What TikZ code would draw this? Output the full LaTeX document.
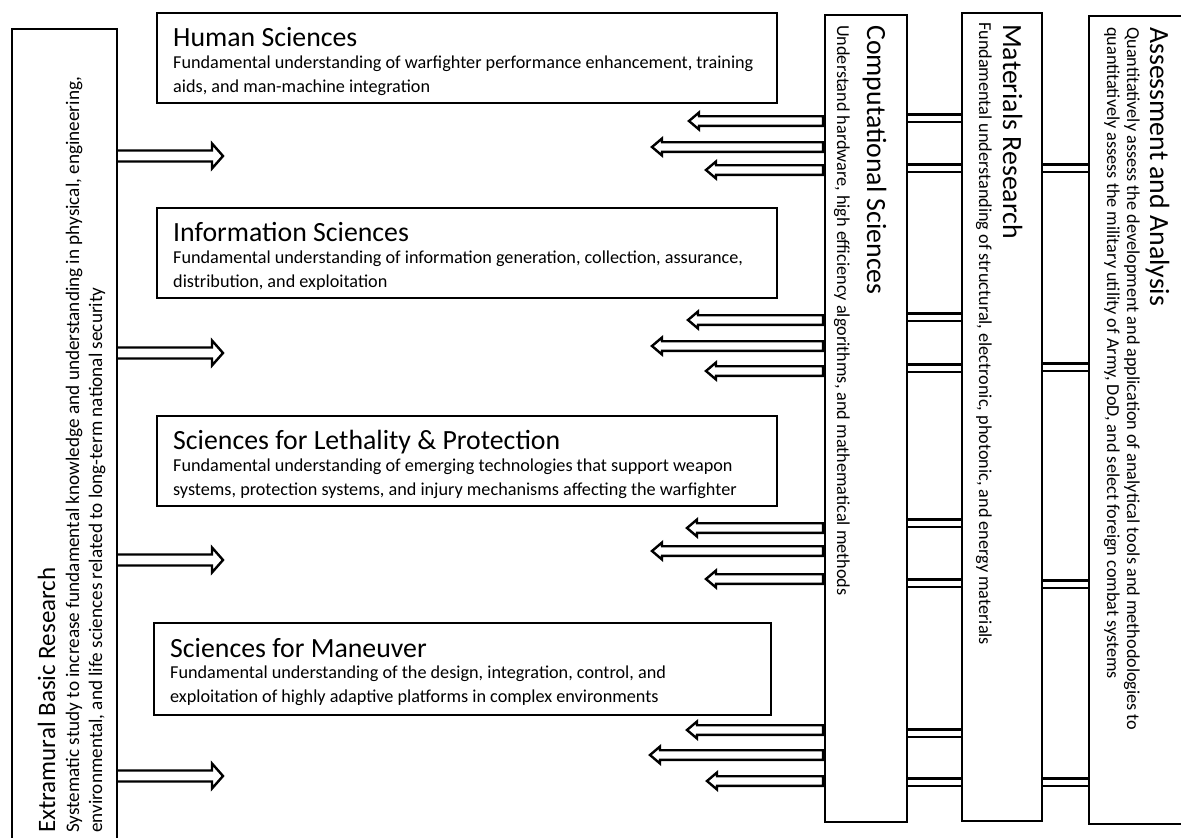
\documentclass[tikz,border=0pt]{standalone}
\usepackage{fontspec}
\setmainfont{Carlito}
\usetikzlibrary{calc,backgrounds}
\newcommand\larr[3]{% name, y, tip x
  \coordinate (#1) at (#3,#2);
  \coordinate (#1s) at (cs.west |- #1);
  \draw[blk] ($(#1s)+(-2,-4.8)$) -- ($(#1)+(10,-4.8)$) -- ($(#1)+(10,-8.5)$) -- (#1)
    -- ($(#1)+(10,8.5)$) -- ($(#1)+(10,4.8)$) -- ($(#1s)+(-2,4.8)$) -- cycle;}
\newcommand\rarr[3]{% name, y, tip x
  \coordinate (#1) at (#3,#2);
  \coordinate (#1s) at (ex.east |- #1);
  \draw[blk] ($(#1s)+(-3,-5.5)$) -- ($(#1)+(-11,-5.5)$) -- ($(#1)+(-11,-12.5)$) -- (#1)
    -- ($(#1)+(-11,12.5)$) -- ($(#1)+(-11,5.5)$) -- ($(#1s)+(-3,5.5)$) -- cycle;}
\newcommand\dconn[3]{\draw[dbl] (#1.east |- 0,#3) -- (#2.west |- 0,#3);}
\begin{document}
\begin{tikzpicture}[x=1pt,y=-1pt,
  box/.style={draw, fill=white, line width=2.4pt, rectangle, inner sep=0pt, outer sep=0pt, anchor=north west},
  ttl/.style={inner sep=0pt, anchor=base west, font=\fontsize{27.8}{32}\selectfont},
  bdy/.style={inner sep=0pt, anchor=base west, font=\fontsize{18.2}{22}\selectfont},
  exttl/.style={ttl, font=\fontsize{25}{30}\selectfont},
  exbdy/.style={bdy, font=\fontsize{19.2}{23}\selectfont},
  blk/.style={draw, fill=white, line width=2.4pt, line join=miter},
  dbl/.style={draw, line width=2.3pt, double, double distance=5pt}]
\useasboundingbox (0,0) rectangle (1181,838);
% boxes
\node[box, minimum width=105pt, minimum height=830pt] (ex) at (12,29) {};
\node[box, minimum width=620pt, minimum height=90pt] (hs) at (157,13) {};
\node[box, minimum width=620pt, minimum height=90pt] (is) at (157,208) {};
\node[box, minimum width=620pt, minimum height=90pt] (lp) at (157,416) {};
\node[box, minimum width=617pt, minimum height=92pt] (sm) at (154,623) {};
\node[box, minimum width=82pt, minimum height=807pt] (cs) at (825,15) {};
\node[box, minimum width=80pt, minimum height=808pt] (mr) at (962,13) {};
\node[box, minimum width=110pt, minimum height=808pt] (aa) at (1089,16) {};
% horizontal box texts
\node[ttl] (hst) at (173,46) {Human Sciences};
\node[bdy] (hsb1) at (173,68) {Fundamental understanding of warfighter performance enhancement, training};
\node[bdy] (hsb2) at (173,92) {aids, and man-machine integration};
\node[ttl] (ist) at (173,241) {Information Sciences};
\node[bdy] (isb1) at (173,263) {Fundamental understanding of information generation, collection, assurance,};
\node[bdy] (isb2) at (173,287) {distribution, and exploitation};
\node[ttl] (lpt) at (173,449) {Sciences for Lethality \& Protection};
\node[bdy] (lpb1) at (173,471) {Fundamental understanding of emerging technologies that support weapon};
\node[bdy] (lpb2) at (173,495) {systems, protection systems, and injury mechanisms affecting the warfighter};
\node[ttl] (smt) at (170,657) {Sciences for Maneuver};
\node[bdy] (smb1) at (170,678) {Fundamental understanding of the design, integration, control, and};
\node[bdy] (smb2) at (170,702) {exploitation of highly adaptive platforms in complex environments};
% vertical texts
\node[ttl, rotate=-90] (cst) at (867,25) {Computational Sciences};
\node[bdy, rotate=-90] (csb) at (837,25) {Understand hardware, high efficiency algorithms, and mathematical methods};
\node[ttl, rotate=-90] (mrt) at (1003,24) {Materials Research};
\node[bdy, rotate=-90] (mrb) at (979,22) {Fundamental understanding of structural, electronic, photonic, and energy materials};
\node[ttl, rotate=-90] (aat) at (1150,27) {Assessment and Analysis};
\node[bdy, rotate=-90] (aab1) at (1127,27) {Quantitatively assess the development and application of analytical tools and methodologies to};
\node[bdy, rotate=-90] (aab2) at (1107,27) {quantitatively assess the military utility of Army, DoD, and select foreign combat systems};
\node[exttl, rotate=90] (ext) at (55,833) {Extramural Basic Research};
\node[exbdy, rotate=90] (exb1) at (79,833) {Systematic study to increase fundamental knowledge and understanding in physical, engineering,};
\node[exbdy, rotate=90] (exb2) at (102,833) {environmental, and life sciences related to long-term national security};
% connectors
\begin{scope}[on background layer]
\rarr{r1}{156}{223}
\rarr{r2}{353}{223}
\rarr{r3}{560}{223}
\rarr{r4}{776}{223}
\larr{a1}{121}{689}
\larr{a2}{147}{652}
\larr{a3}{170}{706}
\larr{b1}{320}{688}
\larr{b2}{346}{652}
\larr{b3}{371}{706}
\larr{c1}{528}{687}
\larr{c2}{551}{652}
\larr{c3}{579}{706}
\larr{d1}{730}{687}
\larr{d2}{755}{650}
\larr{d3}{781}{707}
\dconn{cs}{mr}{118}
\dconn{cs}{mr}{168}
\dconn{mr}{aa}{168}
\dconn{cs}{mr}{317}
\dconn{cs}{mr}{368}
\dconn{mr}{aa}{367}
\dconn{cs}{mr}{523}
\dconn{cs}{mr}{583}
\dconn{mr}{aa}{584}
\dconn{cs}{mr}{733}
\dconn{cs}{mr}{782}
\dconn{mr}{aa}{782}
\end{scope}
\end{tikzpicture}
\end{document}
